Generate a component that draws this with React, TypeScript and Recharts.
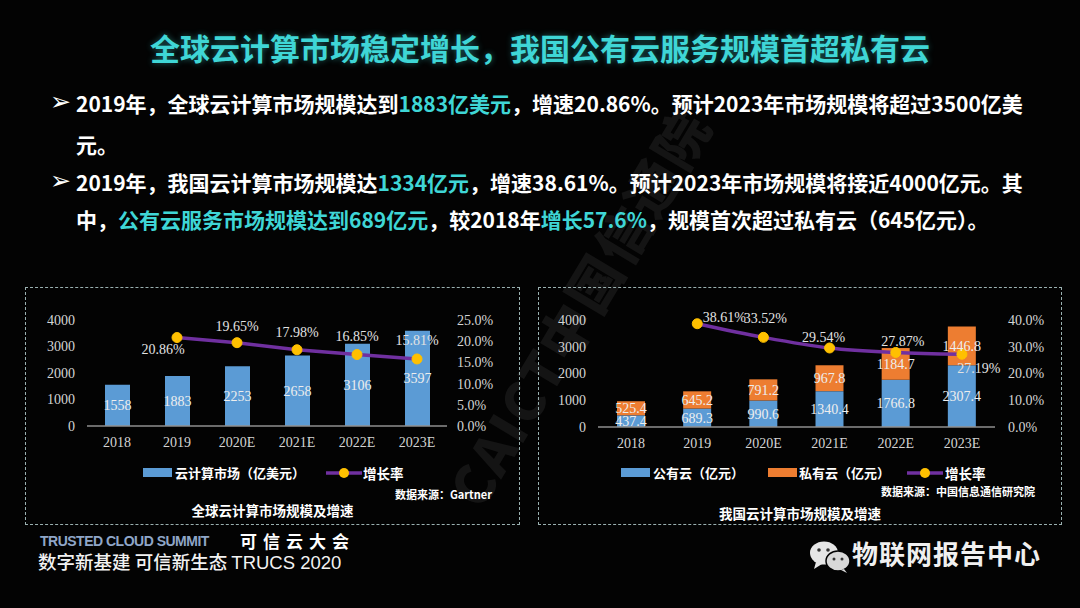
import React from "react";
import { ComposedChart, Bar, Line, XAxis, YAxis, LabelList } from "recharts";

// 全球云计算市场（亿美元）及增速
const years = ["2018", "2019", "2020E", "2021E", "2022E", "2023E"];
const globalMarket = [1558, 1883, 2253, 2658, 3106, 3597];
const globalGrowth = [null, 20.86, 19.65, 17.98, 16.85, 15.81];

// 我国云计算市场（亿元）及增速
const publicCloud = [437.4, 689.3, 990.6, 1340.4, 1766.8, 2307.4];
const privateCloud = [525.4, 645.2, 791.2, 967.8, 1184.7, 1446.8];
const chinaGrowth = [null, 38.61, 33.52, 29.54, 27.87, 27.19];

const marketTicks = [0, 1000, 2000, 3000, 4000];
const globalRateTicks = [0, 5, 10, 15, 20, 25];
const chinaRateTicks = [0, 10, 20, 30, 40];

// label shifts (dx, dy) for the growth-rate labels, relative to each dot
const globalRateShift = [[0, 0], [-14, 12], [0, -16], [0, -17], [0, -18], [0, -18]];
const chinaRateShift = [[0, 0], [27, -6], [2, -19], [-6, -10], [7, -11], [17, 14]];

const BLUE = "#5b9bd5";
const ORANGE = "#ed7d31";
const PURPLE = "#7030a0";
const YELLOW = "#ffc000";
const CYAN = "#3fd6d6";
const SERIF = "'Liberation Serif', 'Times New Roman', serif";
const CJK = "'Noto Sans CJK SC', 'Noto Sans', sans-serif";

const globalData = years.map((year, i) => ({
  year,
  market: globalMarket[i],
  growth: globalGrowth[i],
}));

const chinaData = years.map((year, i) => ({
  year,
  pub: publicCloud[i],
  priv: privateCloud[i],
  growth: chinaGrowth[i],
}));

const tickStyle = { fill: "#d4d4d4", fontSize: 14, fontFamily: SERIF };

const rateLabel = (shift: number[][]) => (props: any) => {
  const { x, y, value, index } = props;
  if (value == null) return null;
  const [dx, dy] = shift[index] || [0, 0];
  return (
    <text
      x={x + dx}
      y={y + dy}
      textAnchor="middle"
      dominantBaseline="central"
      fill="#e2e2e2"
      fontSize={14}
      fontFamily={SERIF}
    >
      {value.toFixed(2)}%
    </text>
  );
};

function Hi({ children }: { children: React.ReactNode }) {
  return <span style={{ color: CYAN }}>{children}</span>;
}

function LineKey({ left, top }: { left: number; top: number }) {
  return (
    <svg style={{ position: "absolute", left, top }} width={36} height={14}>
      <line x1={0} y1={7} x2={36} y2={7} stroke={PURPLE} strokeWidth={3.5} />
      <circle cx={18} cy={7} r={5} fill={YELLOW} />
    </svg>
  );
}

const abs = (left: number, top: number, extra: React.CSSProperties = {}): React.CSSProperties => ({
  position: "absolute",
  left,
  top,
  whiteSpace: "nowrap",
  ...extra,
});

export default function App() {
  const bullet = { fontSize: 21, fontWeight: 700, color: "#ffffff", lineHeight: "26px" };
  const arrow = { fontFamily: "'DejaVu Sans', sans-serif", fontSize: 25, fontWeight: 700, color: "#ffffff", lineHeight: "26px" };
  return (
    <div
      style={{
        position: "absolute",
        left: 0,
        top: 0,
        width: 1080,
        height: 608,
        background: "#030303",
        overflow: "hidden",
        fontFamily: CJK,
      }}
    >
      {/* faint watermark */}
      <div
        style={abs(462, 470, {
          fontSize: 54,
          fontWeight: 900,
          lineHeight: "60px",
          color: "rgba(255,255,255,0.07)",
          transform: "rotate(-59deg)",
          transformOrigin: "left center",
          letterSpacing: 2,
        })}
      >
        CAICT中国信通院
      </div>

      {/* title */}
      <div
        style={{
          position: "absolute",
          left: 0,
          top: 28,
          width: 1080,
          textAlign: "center",
          fontSize: 30,
          fontWeight: 700,
          color: CYAN,
          lineHeight: "38px",
          textShadow: "0 0 6px rgba(63,214,214,0.45)",
        }}
      >
        全球云计算市场稳定增长，我国公有云服务规模首超私有云
      </div>

      {/* bullets */}
      <div style={abs(50, 89, arrow)}>➢</div>
      <div style={abs(76, 90, bullet)}>
        2019年，全球云计算市场规模达到<Hi>1883亿美元</Hi>，增速20.86%。预计2023年市场规模将超过3500亿美
      </div>
      <div style={abs(76, 131, bullet)}>元。</div>
      <div style={abs(50, 168, arrow)}>➢</div>
      <div style={abs(76, 169, bullet)}>
        2019年，我国云计算市场规模达<Hi>1334亿元</Hi>，增速38.61%。预计2023年市场规模将接近4000亿元。其
      </div>
      <div style={abs(76, 206, bullet)}>
        中，<Hi>公有云服务市场规模达到689亿元</Hi>，较2018年<Hi>增长57.6%</Hi>，规模首次超过私有云（645亿元）。
      </div>

      {/* chart frames */}
      <div style={abs(25, 287, { width: 495, height: 238, border: "1px dashed #9ab0b0", boxSizing: "border-box" })} />
      <div style={abs(538, 287, { width: 524, height: 238, border: "1px dashed #9ab0b0", boxSizing: "border-box" })} />

      {/* left chart: global market */}
      <div style={abs(20, 300)}>
        <ComposedChart width={510} height={160} data={globalData} margin={{ top: 20, right: 23, bottom: 4, left: 0 }}>
          <XAxis
            dataKey="year"
            tickLine={false}
            axisLine={{ stroke: "#8f8f8f", strokeWidth: 1.5 }}
            tick={tickStyle}
            tickMargin={5}
            interval={0}
          />
          <YAxis
            yAxisId="left"
            width={67}
            domain={[0, 4000]}
            ticks={marketTicks}
            axisLine={false}
            tickLine={false}
            tick={tickStyle}
            tickMargin={6}
          />
          <YAxis
            yAxisId="right"
            orientation="right"
            width={60}
            domain={[0, 25]}
            ticks={globalRateTicks}
            axisLine={false}
            tickLine={false}
            tick={tickStyle}
            tickMargin={4}
            tickFormatter={(v: number) => `${v.toFixed(1)}%`}
          />
          <Bar yAxisId="left" dataKey="market" fill={BLUE} barSize={25} isAnimationActive={false}>
            <LabelList dataKey="market" position="center" fill="#eeeeee" fontSize={14} fontFamily={SERIF} />
          </Bar>
          <Line
            yAxisId="right"
            type="linear"
            dataKey="growth"
            stroke={PURPLE}
            strokeWidth={3.5}
            dot={{ r: 5, fill: YELLOW, stroke: YELLOW, strokeWidth: 1 }}
            isAnimationActive={false}
          >
            <LabelList dataKey="growth" content={rateLabel(globalRateShift)} />
          </Line>
        </ComposedChart>
      </div>

      {/* left legend */}
      <div style={abs(143, 468, { width: 29, height: 9, background: BLUE })} />
      <div style={abs(175, 463, { fontSize: 13, fontWeight: 700, color: "#fff", lineHeight: "20px" })}>云计算市场（亿美元）</div>
      <LineKey left={326} top={466} />
      <div style={abs(363, 463, { fontSize: 13.5, fontWeight: 700, color: "#fff", lineHeight: "20px" })}>增长率</div>
      <div style={{ position: "absolute", right: 588, top: 486, fontSize: 11, fontWeight: 700, color: "#fff", whiteSpace: "nowrap" }}>
        数据来源：Gartner
      </div>
      <div style={{ position: "absolute", left: 25, width: 495, top: 500, textAlign: "center", fontSize: 13.5, fontWeight: 700, color: "#fff" }}>
        全球云计算市场规模及增速
      </div>

      {/* right chart: China market */}
      <div style={abs(535, 300)}>
        <ComposedChart width={530} height={160} data={chinaData} margin={{ top: 20, right: 10, bottom: 3, left: 0 }}>
          <XAxis
            dataKey="year"
            tickLine={false}
            axisLine={{ stroke: "#8f8f8f", strokeWidth: 1.5 }}
            tick={tickStyle}
            tickMargin={5}
            interval={0}
          />
          <YAxis
            yAxisId="left"
            width={63}
            domain={[0, 4000]}
            ticks={marketTicks}
            axisLine={false}
            tickLine={false}
            tick={tickStyle}
            tickMargin={6}
          />
          <YAxis
            yAxisId="right"
            orientation="right"
            width={60}
            domain={[0, 40]}
            ticks={chinaRateTicks}
            axisLine={false}
            tickLine={false}
            tick={tickStyle}
            tickMargin={7}
            tickFormatter={(v: number) => `${v.toFixed(1)}%`}
          />
          <Bar yAxisId="left" dataKey="pub" stackId="a" fill={BLUE} barSize={28} isAnimationActive={false}>
            <LabelList dataKey="pub" position="center" fill="#eeeeee" fontSize={14} fontFamily={SERIF} formatter={(v: any) => Number(v).toFixed(1)} />
          </Bar>
          <Bar yAxisId="left" dataKey="priv" stackId="a" fill={ORANGE} barSize={28} isAnimationActive={false}>
            <LabelList dataKey="priv" position="center" fill="#eeeeee" fontSize={14} fontFamily={SERIF} formatter={(v: any) => Number(v).toFixed(1)} />
          </Bar>
          <Line
            yAxisId="right"
            type="monotone"
            dataKey="growth"
            stroke={PURPLE}
            strokeWidth={3.5}
            dot={{ r: 5, fill: YELLOW, stroke: YELLOW, strokeWidth: 1 }}
            isAnimationActive={false}
          >
            <LabelList dataKey="growth" content={rateLabel(chinaRateShift)} />
          </Line>
        </ComposedChart>
      </div>

      {/* right legend */}
      <div style={abs(621, 468, { width: 29, height: 9, background: BLUE })} />
      <div style={abs(653, 463, { fontSize: 13, fontWeight: 700, color: "#fff", lineHeight: "20px" })}>公有云（亿元）</div>
      <div style={abs(768, 468, { width: 29, height: 9, background: ORANGE })} />
      <div style={abs(799, 463, { fontSize: 13, fontWeight: 700, color: "#fff", lineHeight: "20px" })}>私有云（亿元）</div>
      <LineKey left={907} top={466} />
      <div style={abs(945, 463, { fontSize: 13.5, fontWeight: 700, color: "#fff", lineHeight: "20px" })}>增长率</div>
      <div style={{ position: "absolute", right: 45, top: 483, fontSize: 11, fontWeight: 700, color: "#fff", whiteSpace: "nowrap" }}>
        数据来源：中国信息通信研究院
      </div>
      <div style={{ position: "absolute", left: 538, width: 524, top: 503, textAlign: "center", fontSize: 13.5, fontWeight: 700, color: "#fff" }}>
        我国云计算市场规模及增速
      </div>

      {/* footer */}
      <div
        style={abs(40, 531, {
          fontSize: 14,
          fontWeight: 700,
          letterSpacing: -0.5,
          fontFamily: "'Liberation Sans', sans-serif",
          color: "#8fa6c8",
          lineHeight: "20px",
        })}
      >
        TRUSTED CLOUD SUMMIT
      </div>
      <div style={abs(240, 530, { fontSize: 17, fontWeight: 700, color: "#fff", letterSpacing: 6, lineHeight: "22px" })}>可信云大会</div>
      <div style={abs(38, 550, { fontSize: 18.5, fontWeight: 500, color: "#f2f2f2", lineHeight: "22px" })}>
        数字新基建 可信新生态 <span style={{ fontFamily: "'Liberation Sans', sans-serif", fontWeight: 400 }}>TRUCS 2020</span>
      </div>
      <svg style={{ position: "absolute", left: 808, top: 540 }} width={44} height={34}>
        <ellipse cx={16} cy={13} rx={14} ry={11.5} fill="#e6e6e6" />
        <path d="M8 22 L6 29 L14 24 Z" fill="#e6e6e6" />
        <ellipse cx={30} cy={21} rx={12} ry={10} fill="#d8d8d8" stroke="#030303" strokeWidth={1.5} />
        <path d="M36 29 L39 33 L33 30 Z" fill="#d8d8d8" />
        <circle cx={11} cy={10} r={1.8} fill="#333" />
        <circle cx={20} cy={10} r={1.8} fill="#333" />
        <circle cx={26} cy={19} r={1.5} fill="#333" />
        <circle cx={34} cy={19} r={1.5} fill="#333" />
      </svg>
      <div style={abs(852, 537, { fontSize: 26, fontWeight: 700, color: "#f0f0f0", lineHeight: "32px", letterSpacing: 1 })}>
        物联网报告中心
      </div>
    </div>
  );
}
